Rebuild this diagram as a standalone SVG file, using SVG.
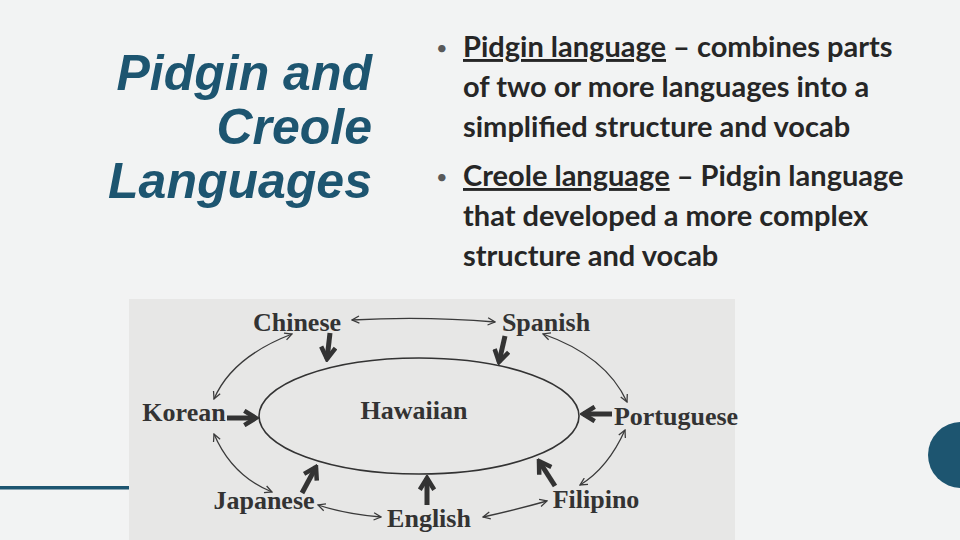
<svg xmlns="http://www.w3.org/2000/svg" width="960" height="540" viewBox="0 0 960 540">
<defs>
<style>
.title{font-family:"Liberation Sans",Arial,sans-serif;font-weight:bold;font-style:italic;font-size:50px;fill:#1d5570;text-anchor:end}
.bul{font-family:Lato,"Open Sans",sans-serif;font-weight:bold;font-size:29px;fill:#262626}
.dot{font-family:Lato,"Open Sans",sans-serif;font-size:20px;fill:#595959}
.lab{font-family:"Liberation Serif","Times New Roman",serif;font-weight:bold;font-size:26px;fill:#333333}
.thin{fill:none;stroke:#3a3a3a;stroke-width:1.3;marker-start:url(#ah);marker-end:url(#ah)}
.thick{fill:none;stroke:#333333;stroke-width:5;marker-end:url(#th)}
</style>
<marker id="ah" viewBox="0 0 10 10" refX="9" refY="5" markerWidth="9" markerHeight="9" markerUnits="userSpaceOnUse" orient="auto-start-reverse">
<path d="M1,1 L9,5 L1,9" fill="none" stroke="#3a3a3a" stroke-width="1.4"/>
</marker>
<marker id="th" viewBox="0 0 20 20" refX="17" refY="10" markerWidth="18" markerHeight="18" markerUnits="userSpaceOnUse" orient="auto">
<path d="M4,2 L17,10 L4,18" fill="none" stroke="#333333" stroke-width="5" stroke-linejoin="miter"/>
</marker>
</defs>
<rect width="960" height="540" fill="#f2f3f3"/>
<rect x="0" y="486" width="130" height="3.5" fill="#1d5570"/>
<circle cx="961" cy="455" r="33" fill="#1d5570"/>
<g id="title">
<text class="title" x="372" y="90">Pidgin and</text>
<text class="title" x="372" y="144">Creole</text>
<text class="title" x="372" y="198">Languages</text>
</g>
<g id="bullets">
<text class="dot" x="436" y="55">•</text>
<text class="bul" x="463" y="57"><tspan text-decoration="underline">Pidgin language</tspan> – combines parts</text>
<text class="bul" x="463" y="97">of two or more languages into a</text>
<text class="bul" x="463" y="137">simplified structure and vocab</text>
<text class="dot" x="436" y="184">•</text>
<text class="bul" x="463" y="186"><tspan text-decoration="underline">Creole language</tspan> – Pidgin language</text>
<text class="bul" x="463" y="226">that developed a more complex</text>
<text class="bul" x="463" y="266">structure and vocab</text>
</g>
<rect x="129" y="299" width="606" height="241" fill="#e7e7e6"/>
<g id="hawaiian">
<ellipse cx="419" cy="416" rx="160" ry="58" fill="none" stroke="#333333" stroke-width="1.6"/>
<text class="lab" x="414" y="419" text-anchor="middle">Hawaiian</text>
</g>
<g id="chinese"><text class="lab" x="297" y="331" text-anchor="middle">Chinese</text></g>
<g id="spanish"><text class="lab" x="546" y="331" text-anchor="middle">Spanish</text></g>
<g id="korean"><text class="lab" x="184" y="421" text-anchor="middle">Korean</text></g>
<g id="portuguese"><text class="lab" x="676" y="425" text-anchor="middle">Portuguese</text></g>
<g id="japanese"><text class="lab" x="264" y="509" text-anchor="middle">Japanese</text></g>
<g id="english"><text class="lab" x="429" y="527" text-anchor="middle">English</text></g>
<g id="filipino"><text class="lab" x="596" y="508" text-anchor="middle">Filipino</text></g>
<g id="connectors">
<path class="thin" d="M352,320 Q424,316 495,322"/>
<path class="thin" d="M292,334 Q232,357 214,399"/>
<path class="thin" d="M214,434 Q232,476 272,492"/>
<path class="thin" d="M318,505 Q345,514 381,517"/>
<path class="thin" d="M483,517 Q515,510 547,501"/>
<path class="thin" d="M543,334 Q606,356 627,402"/>
<path class="thin" d="M625,430 Q608,468 580,485"/>
<path class="thick" d="M330,333 L327,359"/>
<path class="thick" d="M505,336 L499,362"/>
<path class="thick" d="M227,418 L256,418"/>
<path class="thick" d="M612,414 L583,414"/>
<path class="thick" d="M302,493 L316,467"/>
<path class="thick" d="M427,505 L427,478"/>
<path class="thick" d="M555,486 L539,461"/>
</g>
</svg>
